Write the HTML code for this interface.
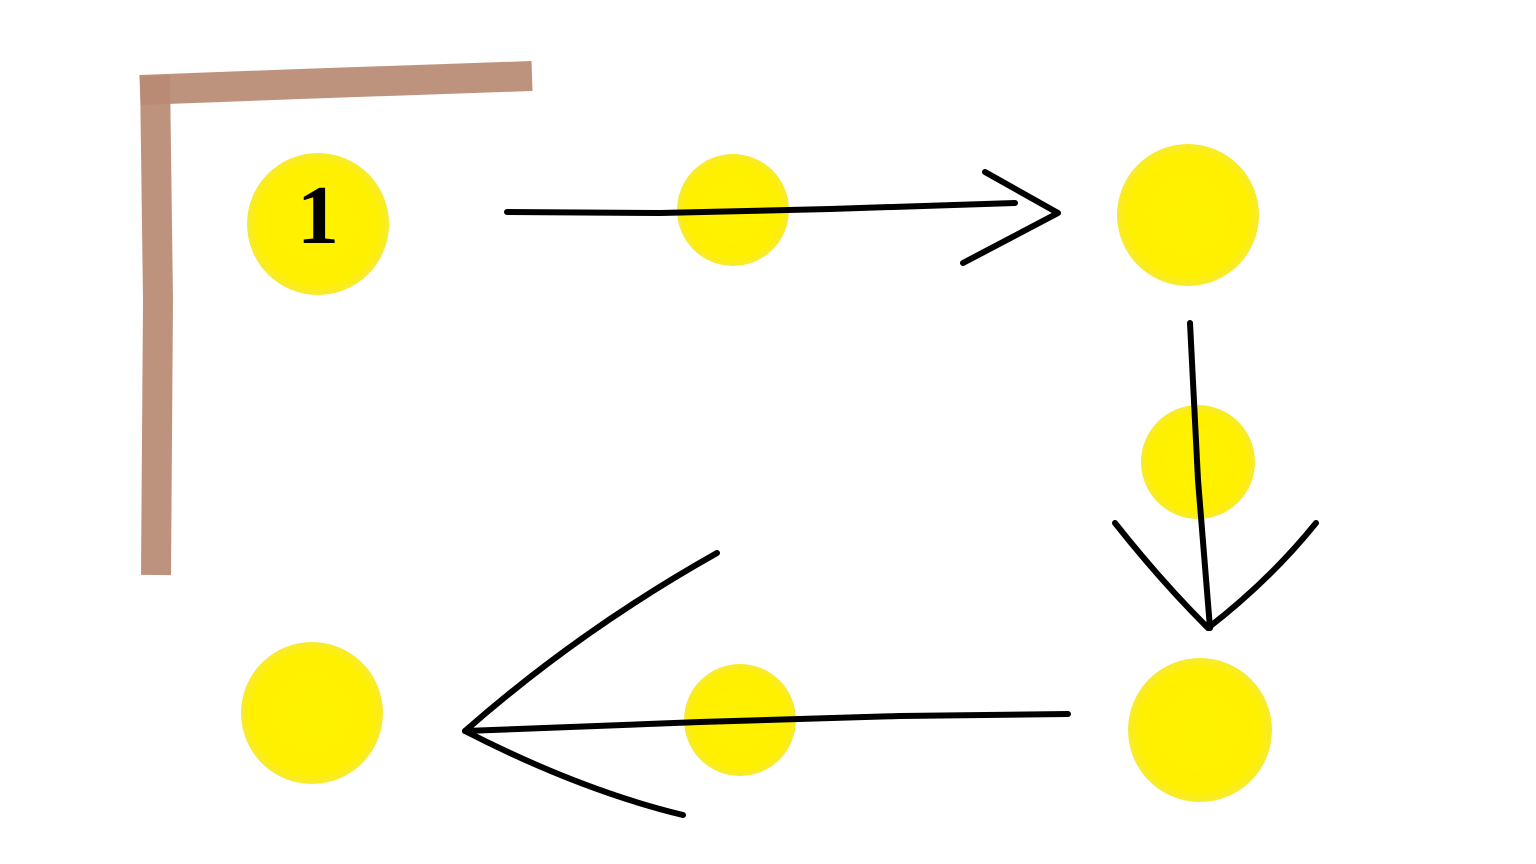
<!DOCTYPE html>
<html><head><meta charset="utf-8"><style>
html,body{margin:0;padding:0;background:#fff;}
svg{display:block;}
</style></head><body>
<svg width="1536" height="864" viewBox="0 0 1536 864">
  <defs>
    <radialGradient id="dot" cx="50%" cy="50%" r="50%">
      <stop offset="0" stop-color="#fff200"/>
      <stop offset="0.85" stop-color="#fff000"/>
      <stop offset="1" stop-color="#f7ea30"/>
    </radialGradient>
  </defs>
  <rect width="1536" height="864" fill="#fff"/>
  <g>
    <path d="M140,90 L300,84 L532,76" stroke="#b88a73" stroke-width="30" fill="none" stroke-linecap="butt" opacity="0.92"/>
    <path d="M155,76 L158,300 L156,575" stroke="#b88a73" stroke-width="30" fill="none" stroke-linecap="butt" opacity="0.92"/>
  </g>
  <g>
    <circle cx="318" cy="224" r="71" fill="url(#dot)"/>
    <circle cx="733" cy="210" r="56" fill="url(#dot)"/>
    <circle cx="1188" cy="215" r="71" fill="url(#dot)"/>
    <circle cx="1198" cy="462" r="57" fill="url(#dot)"/>
    <circle cx="1200" cy="730" r="72" fill="url(#dot)"/>
    <circle cx="740" cy="720" r="56" fill="url(#dot)"/>
    <circle cx="312" cy="713" r="71" fill="url(#dot)"/>
  </g>
  <text x="318" y="243" font-family="Liberation Serif, serif" font-weight="bold" font-size="84" text-anchor="middle" fill="#000">1</text>
  <g stroke="#000" stroke-width="6" fill="none" stroke-linecap="round" stroke-linejoin="round">
    <g>
      <path d="M507,212 L660,213 L830,209 L1015,203"/>
      <path d="M985,172 L1058,213 L963,263"/>
    </g>
    <g>
      <path d="M1190,323 L1198,480 L1210,628"/>
      <path d="M1115,523 Q1160,580 1208,628 Q1270,580 1316,523"/>
    </g>
    <g>
      <path d="M1068,714 L900,716 L700,722 L465,731"/>
      <path d="M717,553 Q580,630 465,731 Q580,790 683,815"/>
    </g>
  </g>
</svg>
</body></html>
